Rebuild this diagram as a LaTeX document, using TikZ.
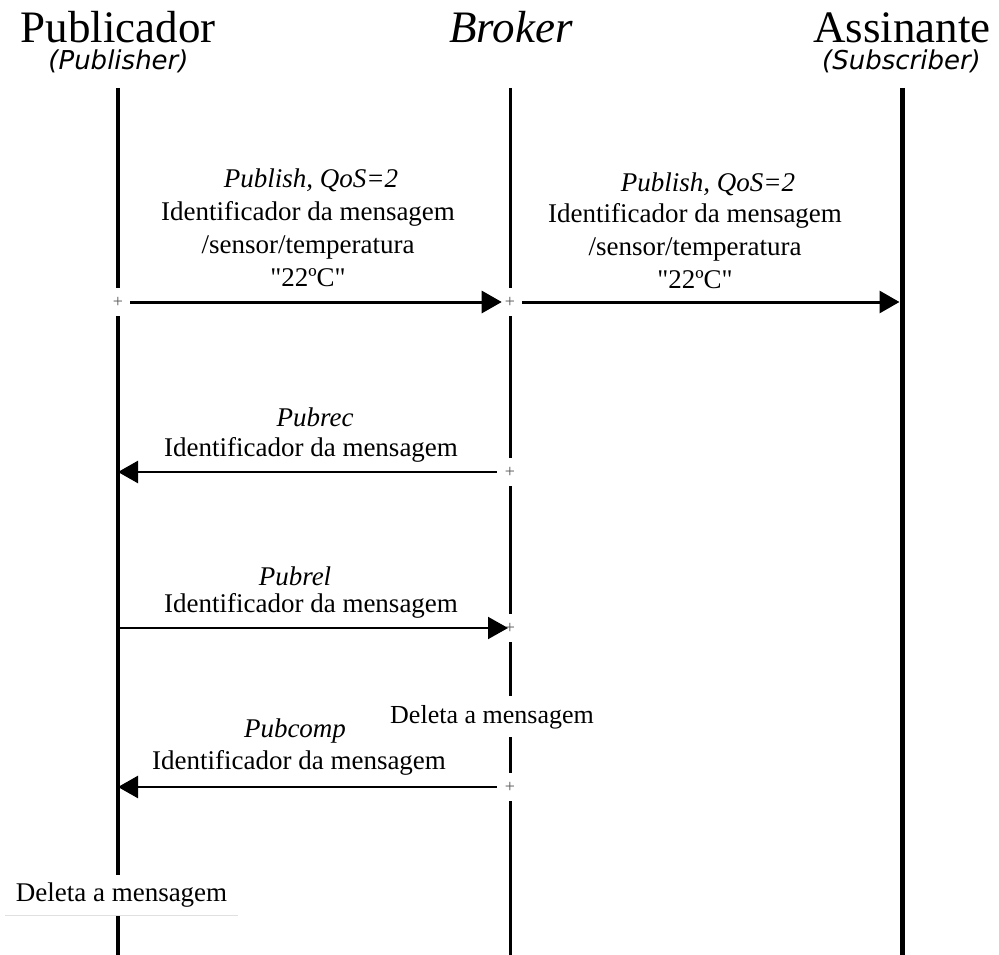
\documentclass[tikz,border=0pt]{standalone}
\usepackage{fontspec}
\setmainfont{Liberation Serif}[Ligatures=TeXOff]
\newfontfamily\rolefont{DejaVu Sans}
\usetikzlibrary{arrows.meta}

\begin{document}
\begin{tikzpicture}[x=1pt,y=-1pt,
  headtext/.style={font=\fontsize{45}{45}\selectfont, inner sep=0pt, anchor=base},
  roletext/.style={font=\rolefont\itshape\fontsize{26}{26}\selectfont, inner sep=0pt, anchor=base},
  kindtext/.style={font=\itshape\fontsize{27}{33}\selectfont, inner sep=0pt, anchor=base},
  bodytext/.style={font=\fontsize{27}{33}\selectfont, align=center, inner sep=0pt,
                   text depth=0pt, anchor=south},
  lifeline/.style={line width=#1, black},
  plusbox/.style={font=\fontsize{18}{18}\selectfont, text=black!65, fill=white,
                  inner sep=0pt, minimum width=9pt, minimum height=28pt},
  msgarrow/.style={line width=#1, black, -{Triangle[length=20pt,width=22pt]}},
  note/.style={font=\fontsize{26}{26}\selectfont, fill=white, inner xsep=2pt, inner ysep=8.5pt}
]
\useasboundingbox (0,0) rectangle (999,955);

% participants
\node[headtext] (pubT) at (118,43) {Publicador};
\node[roletext] (pubR) at (118.5,70) {(Publisher)};
\node[headtext] (brkT) at (511,43) {\itshape Broker};
\node[headtext] (subT) at (902,43) {Assinante};
\node[roletext] (subR) at (901.5,70) {(Subscriber)};

% lifeline ends
\coordinate (pubTop) at (118,88);  \coordinate (pubBot) at (118,955);
\coordinate (brkTop) at (510,88);  \coordinate (brkBot) at (510,955);
\coordinate (subTop) at (902,88);  \coordinate (subBot) at (902,955);

\draw[lifeline=4pt] (pubTop) -- (pubBot);
\draw[lifeline=3pt] (brkTop) -- (brkBot);
\draw[lifeline=5pt] (subTop) -- (subBot);

% activation marks on the lifelines
\node[plusbox] (pp1) at (118,302) {+};
\node[plusbox] (bp1) at (510,302) {+};
\node[plusbox] (bp2) at (510,472) {+};
\node[plusbox] (bp3) at (510,628) {+};
\node[plusbox] (bp4) at (510,787) {+};

% arrow ends on the lifelines
\coordinate (s1) at (902,302);
\coordinate (p2) at (118,472);
\coordinate (p3) at (118,628);
\coordinate (p4) at (118,787);

% Publish: publisher -> broker
\node[kindtext] (k1) at (311,188) {Publish, QoS=2};
\node[bodytext] (b1) at (308,287) {Identificador da mensagem\\/sensor/temperatura\\"22ºC"};
\draw[msgarrow=3pt, shorten <=7pt, shorten >=3pt] (pp1.east) -- (bp1.west);

% Publish: broker -> subscriber
\node[kindtext] (k2) at (708,191) {Publish, QoS=2};
\node[bodytext] (b2) at (695,289) {Identificador da mensagem\\/sensor/temperatura\\"22ºC"};
\draw[msgarrow=3pt, shorten <=7pt, shorten >=2.5pt] (bp1.east) -- (s1);

% Pubrec
\node[kindtext] (k3) at (315,426) {Pubrec};
\node[bodytext] (b3) at (311,457) {Identificador da mensagem};
\draw[msgarrow=2.5pt, shorten <=8pt] (bp2.west) -- (p2);

% Pubrel
\node[kindtext] (k4) at (295,585) {Pubrel};
\node[bodytext] (b4) at (311,613) {Identificador da mensagem};
\draw[msgarrow=2pt, shorten >=2pt] (p3) -- (bp3.center);

% broker discards the message
\node[note, anchor=base] (delB) at (492,723) {Deleta a mensagem};

% Pubcomp
\node[kindtext] (k5) at (295,737) {Pubcomp};
\node[bodytext] (b5) at (299,770) {Identificador da mensagem};
\draw[msgarrow=2.5pt, shorten <=8pt] (bp4.west) -- (p4);

% publisher discards the message
\node[font=\fontsize{27}{27}\selectfont, fill=white, inner sep=0pt,
      minimum width=233pt, minimum height=40pt] (delP) at (121.5,895) {Deleta a mensagem};
\draw[black!12, line width=1pt] (delP.south west) -- (delP.south east);

\end{tikzpicture}
\end{document}
